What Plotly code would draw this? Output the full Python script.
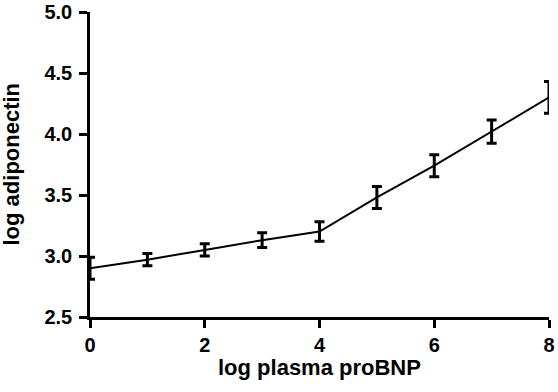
import plotly.graph_objects as go

x_vals = [0, 1, 2, 3, 4, 5, 6, 7, 8]
y_vals = [2.90, 2.97, 3.05, 3.13, 3.20, 3.48, 3.74, 4.02, 4.30]
err_vals = [0.09, 0.05, 0.05, 0.06, 0.08, 0.09, 0.09, 0.095, 0.13]
x_ticks = [0, 2, 4, 6, 8]
y_ticks = [2.5, 3.0, 3.5, 4.0, 4.5, 5.0]
x_title = "log plasma proBNP"
y_title = "log adiponectin"

font_family = "Liberation Sans, Arial, sans-serif"
tick_font = dict(size=20, family=font_family, color="black", weight="bold")
title_font = dict(size=22, family=font_family, color="black", weight="bold")

fig = go.Figure()
fig.add_trace(go.Scatter(
    x=x_vals, y=y_vals, mode="lines",
    line=dict(color="black", width=2),
    error_y=dict(type="data", array=err_vals, visible=True,
                 color="black", thickness=3, width=5),
    cliponaxis=False, showlegend=False,
))

axis_common = dict(
    showgrid=False, zeroline=False, showline=True, linecolor="black",
    linewidth=2.5, ticks="outside", ticklen=8, tickwidth=2.5, tickcolor="black",
    tickfont=tick_font, automargin=False, ticklabeloverflow="allow",
)

fig.update_layout(
    width=558, height=392,
    margin=dict(l=90, r=9, t=12, b=75),
    plot_bgcolor="white", paper_bgcolor="white",
    font=dict(family=font_family, color="black", size=20),
    xaxis=dict(range=[0, 8], tickvals=x_ticks,
               ticktext=[str(v) for v in x_ticks], **axis_common),
    yaxis=dict(range=[2.5, 5.0], tickvals=y_ticks,
               ticktext=[f"{v:.1f}" for v in y_ticks],
               ticklabelstandoff=3, **axis_common),
    annotations=[
        dict(text=x_title, x=0.5, y=0, xref="paper", yref="paper",
             xanchor="center", yanchor="middle", yshift=-50,
             showarrow=False, font=title_font),
        dict(text=y_title, x=0, y=0.5, xref="paper", yref="paper",
             xanchor="center", yanchor="middle", xshift=-79, textangle=-90,
             showarrow=False, font=title_font),
    ],
)
fig.write_html("out.html", config={"displayModeBar": False},
               post_script="document.body.style.margin='0';")
